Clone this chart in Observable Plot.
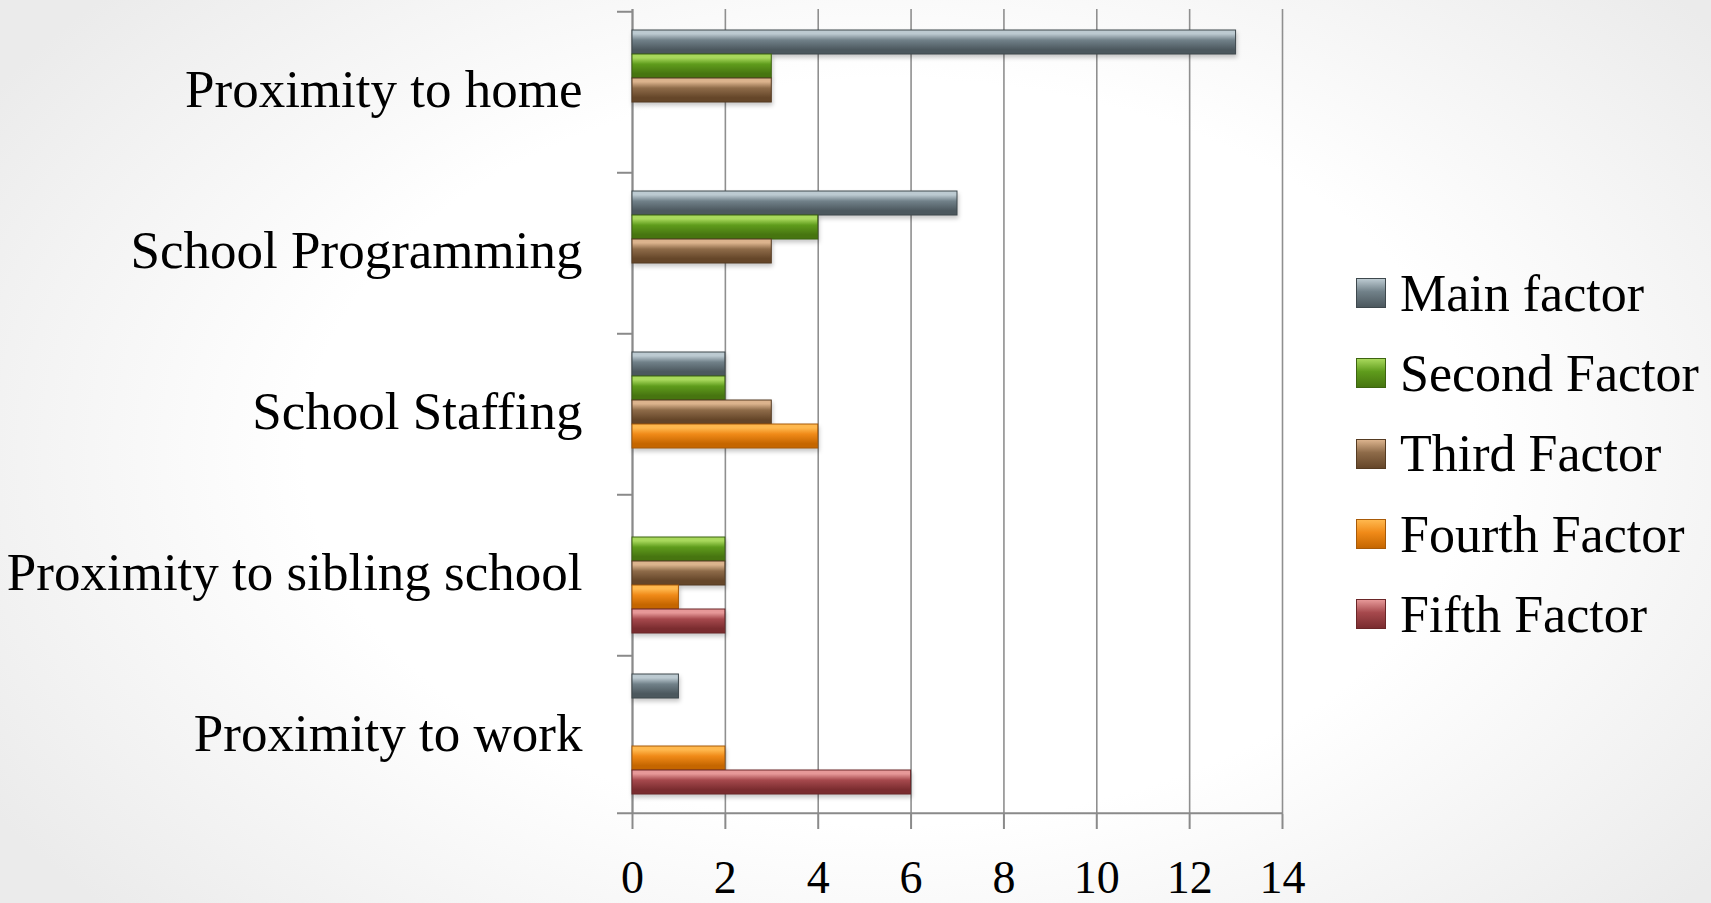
<!DOCTYPE html>
<html>
<head>
<meta charset="utf-8">
<script src="https://cdn.jsdelivr.net/npm/d3@7"></script>
<script src="https://cdn.jsdelivr.net/npm/@observablehq/plot@0.6"></script>
<style>
  html, body { margin: 0; padding: 0; }
  body {
    width: 1711px; height: 903px; overflow: hidden; position: relative;
    background: radial-gradient(ellipse 62% 75% at 52% 50%, #ffffff 55%, #ebebeb 100%);
    font-family: "Liberation Serif", serif;
  }
  #chart { position: absolute; left: 0; top: 0; }
  #chart svg g[aria-label="bar"] rect { filter: drop-shadow(1px 3px 2px rgba(0,0,0,0.22)); }
  #legend { position: absolute; left: 1356px; top: 253px; }
  .item { height: 80.3px; display: flex; align-items: center; font-size: 52px; color: #000; white-space: nowrap; }
  .sw { width: 30px; height: 30px; margin-right: 14px; box-sizing: border-box; }
</style>
</head>
<body>
<div id="chart"></div>
<div id="legend"></div>
<script>
// ---- data ----
const categories = ["Proximity to home", "School Programming", "School Staffing", "Proximity to sibling school", "Proximity to work"];
const seriesNames = ["Main factor", "Second Factor", "Third Factor", "Fourth Factor", "Fifth Factor"];
const mainFactor   = [13, 7, 2, 0, 1];
const secondFactor = [3, 4, 2, 2, 0];
const thirdFactor  = [3, 3, 3, 2, 0];
const fourthFactor = [0, 0, 4, 1, 2];
const fifthFactor  = [0, 0, 0, 2, 6];
const xTicks = [0, 2, 4, 6, 8, 10, 12, 14];

// ---- styles ----
const barLight  = ["#bccad1", "#a8d85c", "#dbb38d", "#ffb84e", "#e69898"];
const barBase   = ["#718189", "#5f9c1c", "#8e6b49", "#f08a18", "#a6494d"];
const barDark   = ["#4c585e", "#477510", "#654629", "#c56600", "#7a2c2f"];
const barStroke = ["#3e484d", "#3d6410", "#553b22", "#a85a08", "#6a2628"];

const seriesValues = [mainFactor, secondFactor, thirdFactor, fourthFactor, fifthFactor];
const rows = [];
seriesNames.forEach((s, i) => categories.forEach((c, j) => rows.push({category: c, series: s, value: seriesValues[i][j]})));

const W = 1711, H = 903, mL = 632, mR = 429, mT = 8, mB = 88;
const padOuter = 0.73;
const facetStep = (H - mT - mB) / categories.length;
const bandH = facetStep / (seriesNames.length + 2 * padOuter);
const edgeOffset = bandH / 2 + bandH * padOuter;
const axisColor = "#8a8a8a";

const chart = Plot.plot({
  width: W, height: H,
  marginLeft: mL, marginRight: mR, marginTop: mT, marginBottom: mB,
  style: {background: "transparent", fontFamily: "Liberation Serif", overflow: "visible", color: "#000"},
  x: {domain: [0, 14], axis: null, label: null},
  y: {domain: seriesNames, paddingInner: 0, paddingOuter: padOuter, axis: null, label: null},
  fy: {domain: categories, padding: 0, axis: null, label: null},
  marks: [
    Plot.gridX(xTicks, {stroke: "#8f8f8f", strokeOpacity: 1, strokeWidth: 1.6}),
    Plot.ruleX([0], {stroke: axisColor, strokeWidth: 2}),
    Plot.ruleY(categories.map(c => ({category: c, series: seriesNames[0]})),
      {y: "series", fy: "category", x1: 0, x2: 0, insetLeft: -15, dy: -edgeOffset, stroke: axisColor, strokeWidth: 2}),
    Plot.ruleY([{category: categories[categories.length - 1], series: seriesNames[seriesNames.length - 1]}],
      {y: "series", fy: "category", x1: 0, x2: 14, insetLeft: -15, dy: edgeOffset, stroke: axisColor, strokeWidth: 2}),
    ...seriesNames.map((s, i) => Plot.barX(rows.filter(d => d.series === s && d.value > 0), {
      x: "value", y: "series", fy: "category",
      fill: `url(#bar${i})`, stroke: barStroke[i], strokeWidth: 1
    })),
    Plot.axisX(xTicks, {anchor: "bottom", label: null, tickSize: 15, tickPadding: 31, fontSize: 46, stroke: axisColor, strokeWidth: 2, fill: "#000"}),
    Plot.axisFy({anchor: "left", label: null, tickSize: 0, tickPadding: 50, fontSize: 53, fill: "#000"})
  ]
});

// gradients for the bevelled bars
const defs = d3.select(chart).insert("defs", ":first-child");
seriesNames.forEach((s, i) => {
  const g = defs.append("linearGradient").attr("id", `bar${i}`)
    .attr("x1", 0).attr("y1", 0).attr("x2", 0).attr("y2", 1);
  [[0, barLight[i]], [0.16, barLight[i]], [0.42, barBase[i]], [0.82, barDark[i]], [1, barDark[i]]]
    .forEach(([o, c]) => g.append("stop").attr("offset", o).attr("stop-color", c));
});
document.getElementById("chart").appendChild(chart);

// legend
const legend = d3.select("#legend");
seriesNames.forEach((s, i) => {
  const it = legend.append("div").attr("class", "item");
  it.append("div").attr("class", "sw")
    .style("background", `linear-gradient(${barLight[i]} 0%, ${barBase[i]} 45%, ${barDark[i]} 100%)`)
    .style("border", `1px solid ${barStroke[i]}`);
  it.append("span").text(s);
});
</script>
</body>
</html>
